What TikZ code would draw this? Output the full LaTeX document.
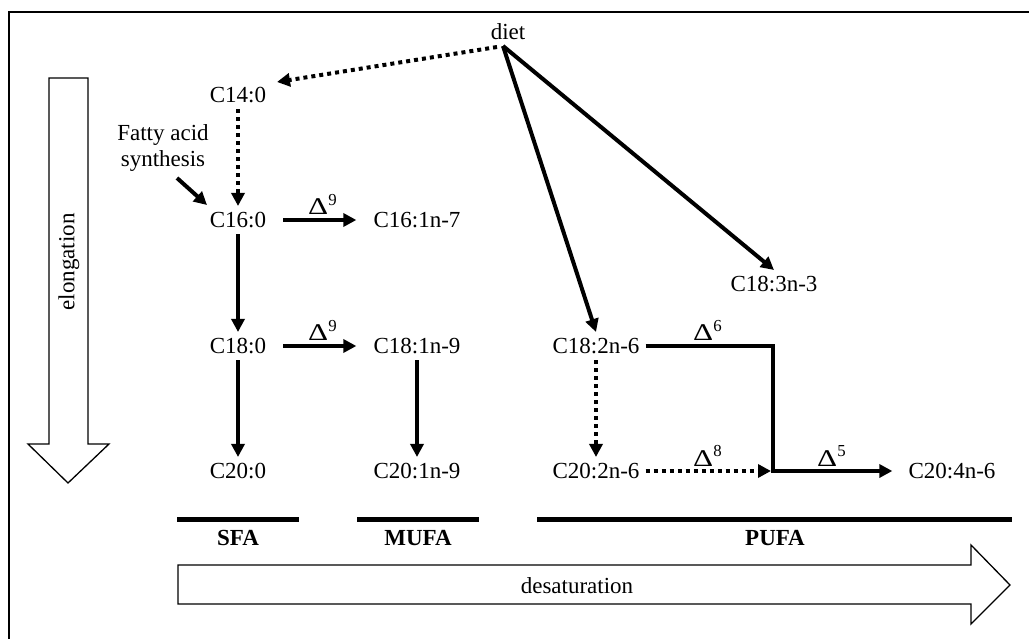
\documentclass[tikz,border=0pt]{standalone}
\usepackage{fontspec}
\usepackage{graphicx}
\setmainfont{Liberation Serif}
\usetikzlibrary{arrows.meta}
\newcommand{\wD}{\scalebox{1.3}[1]{Δ}}
\begin{document}
\begin{tikzpicture}[x=1pt,y=-1pt,
  every node/.style={font=\fontsize{23}{27}\selectfont},
  fa/.style={inner xsep=17pt, inner ysep=6pt},
  faN/.style={inner xsep=6pt, inner ysep=6pt},
  arr/.style={line width=4pt, -{Triangle[length=13pt,width=13pt]}},
  dotarr/.style={line width=4pt, dash pattern=on 4pt off 4pt, -{Triangle[length=13pt,width=13pt]}},
  dlab/.style={anchor=base west, inner sep=0pt, font=\fontsize{24}{28}\selectfont},
  bar/.style={line width=5pt},
  bigarrow/.style={draw, line width=1.3pt, line join=miter},
  grp/.style={font=\fontsize{23}{27}\selectfont\bfseries}]
\useasboundingbox (0,0) rectangle (1029,639);
% frame (cropped at right and bottom)
\draw[line width=2pt] (9,660) -- (9,12) -- (1050,12);

% big outline arrows
\draw[bigarrow] (49,78) -- (88,78) -- (88,444) -- (109,444) -- (68,483) -- (28,444) -- (49,444) -- cycle;
\node[rotate=90] (elong) at (69,262) {elongation};
\draw[bigarrow] (178,565) -- (971,565) -- (971,545) -- (1010,585) -- (971,624) -- (971,604) -- (178,604) -- cycle;
\node (desat) at (577,586) {desaturation};

% nodes
\node[inner sep=0pt] (diet) at (508,32) {diet};
\coordinate (d) at (503,46);
\node[fa] (c14) at (238,95) {C14:0};
\node[align=center, inner sep=0pt, font=\fontsize{23}{26}\selectfont] (fas) at (163,148) {Fatty acid\\synthesis};
\node[fa] (c16) at (238,220) {C16:0};
\node[fa] (c161) at (417,220) {C16:1n-7};
\node[fa] (c18) at (238,346) {C18:0};
\node[fa] (c181) at (417,346) {C18:1n-9};
\node[fa] (c20) at (238,471) {C20:0};
\node[fa] (c201) at (417,471) {C20:1n-9};
\node[fa] (c183) at (774,284) {C18:3n-3};
\node[faN] (c182) at (596,346) {C18:2n-6};
\node[faN] (c202) at (596,471) {C20:2n-6};
\node[inner xsep=16pt] (c204) at (952,471) {C20:4n-6};
\coordinate (c14in) at (277,82);
\coordinate (fs1) at (177,178);
\coordinate (fs2) at (207,205);
\coordinate (j) at (773,471);

% connectors
\draw[dotarr] (d) ++(-6,1) -- (c14in);
\draw[dotarr] (c14.south) -- (c16.north);
\draw[arr] (fs1) -- (fs2);
\draw[arr] (c16.east) -- (c161.west);
\draw[arr] (c16.south) -- (c18.north);
\draw[arr] (c18.east) -- (c181.west);
\draw[arr] (c18.south) -- (c20.north);
\draw[arr] (c181.south) -- (c201.north);
\draw[arr] (d) -- (c183.north);
\draw[arr] (d) -- (c182.north);
\draw[dotarr] (c182.south) -- (c202.north);
\draw[line width=4pt, line join=miter] (c182.east) -| (j);
\draw[dotarr] (c202.east) -- ([xshift=-2pt]j);
\draw[arr] ([xshift=-2pt]j) -- (c204.west);

% delta labels
\node[dlab] (d9a) at (308,215) {\wD\textsuperscript{9}};
\node[dlab] (d9b) at (308,341) {\wD\textsuperscript{9}};
\node[dlab] (d6) at (693,341) {\wD\textsuperscript{6}};
\node[dlab] (d8) at (693,466) {\wD\textsuperscript{8}};
\node[dlab] (d5) at (817,466) {\wD\textsuperscript{5}};

% group bars
\draw[bar] (177,519) -- (299,519);
\draw[bar] (357,519) -- (479,519);
\draw[bar] (537,519) -- (1012,519);
\node[grp] (sfa) at (238,538) {SFA};
\node[grp] (mufa) at (418,538) {MUFA};
\node[grp] (pufa) at (775,538) {PUFA};
\end{tikzpicture}
\end{document}
